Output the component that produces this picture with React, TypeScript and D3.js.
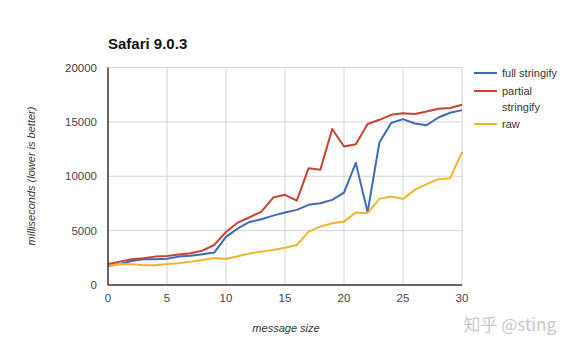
import * as d3 from 'd3';

const sizes = d3.range(0, 31);

const fullStringify = [1750, 1930, 2210, 2360, 2360, 2420, 2610, 2700, 2820, 2980, 4420, 5200, 5800, 6050, 6380, 6660, 6910, 7370, 7520, 7830, 8500, 11230, 6700, 13100, 14900, 15250, 14850, 14700, 15400, 15840, 16080];
const partialStringify = [1900, 2150, 2360, 2450, 2610, 2670, 2800, 2920, 3160, 3680, 4880, 5740, 6230, 6750, 8040, 8290, 7760, 10740, 10590, 14340, 12740, 12950, 14800, 15190, 15650, 15800, 15720, 15960, 16200, 16270, 16570];
const raw = [1750, 1930, 1900, 1810, 1810, 1930, 2000, 2150, 2300, 2490, 2390, 2650, 2900, 3070, 3220, 3430, 3680, 4910, 5370, 5680, 5830, 6660, 6600, 7920, 8130, 7920, 8750, 9270, 9730, 9820, 12220];

const xTicks = [0, 5, 10, 15, 20, 25, 30];
const yTicks = [0, 5000, 10000, 15000, 20000];

const series = [
  { name: ['full stringify'], values: fullStringify, color: '#3d69b8' },
  { name: ['partial', 'stringify'], values: partialStringify, color: '#c7432f' },
  { name: ['raw'], values: raw, color: '#f0b429' },
];

const W = 570;
const H = 352;
const left = 108;
const right = 462;
const top = 67.5;
const bottom = 285;
const font = 'Arial, "Liberation Sans", Helvetica, sans-serif';

export default function App() {
  const x = d3.scaleLinear().domain([0, 30]).range([left, right]);
  const y = d3.scaleLinear().domain([0, 20000]).range([bottom, top]);
  const line = d3.line<number>().x((_, i) => x(sizes[i])).y((d) => y(d));

  // legend rows: one-line entry takes 18px, two-line entry 33px
  let legendY = 73;
  const legend = series.map((s) => {
    const item = { ...s, y: legendY };
    legendY += s.name.length === 2 ? 33 : 18;
    return item;
  });

  return (
    <svg width={W} height={H} style={{ position: 'absolute', left: 0, top: 0, background: '#fff' }} fontFamily={font}>
      <rect width={W} height={H} fill="#fff" />
      <text x={108} y={49} fontSize={15} fontWeight="bold" fill="#111">Safari 9.0.3</text>

      {yTicks.map((t) => (
        <g key={'y' + t}>
          {t > 0 && <line x1={left} x2={right} y1={y(t)} y2={y(t)} stroke="#d4d4d4" strokeWidth={1} />}
          <text x={97} y={y(t) + 4} fontSize={11.5} fill="#444" textAnchor="end">{t}</text>
        </g>
      ))}
      {xTicks.map((t) => (
        <g key={'x' + t}>
          {t > 0 && <line x1={x(t)} x2={x(t)} y1={top} y2={bottom} stroke="#d4d4d4" strokeWidth={1} />}
          <text x={x(t)} y={302} fontSize={11.5} fill="#444" textAnchor="middle">{t}</text>
        </g>
      ))}

      {series.map((s) => (
        <path key={s.name.join(' ')} d={line(s.values) ?? ''} fill="none" stroke={s.color} strokeWidth={2} strokeLinejoin="round" />
      ))}

      <line x1={left} x2={left} y1={top} y2={bottom} stroke="#333" strokeWidth={1.5} />
      <line x1={left} x2={right} y1={bottom} y2={bottom} stroke="#333" strokeWidth={1.5} />

      {legend.map((s) => (
        <g key={'l' + s.name.join(' ')}>
          <line x1={474} x2={497} y1={s.y} y2={s.y} stroke={s.color} strokeWidth={2} />
          {s.name.map((n, i) => (
            <text key={n} x={502} y={s.y + 4 + i * 16} fontSize={11} fill="#333">{n}</text>
          ))}
        </g>
      ))}

      <text transform="translate(35,176) rotate(-90)" fontSize={11} fontStyle="italic" fill="#333" textAnchor="middle">
        milliseconds (lower is better)
      </text>
      <text x={286} y={332} fontSize={11} fontStyle="italic" fill="#333" textAnchor="middle">message size</text>

      <text x={556} y={331} fontSize={17} fill="#c8c8c8" textAnchor="end" fontFamily='"Noto Sans CJK SC", sans-serif'>知乎 @sting</text>
    </svg>
  );
}
